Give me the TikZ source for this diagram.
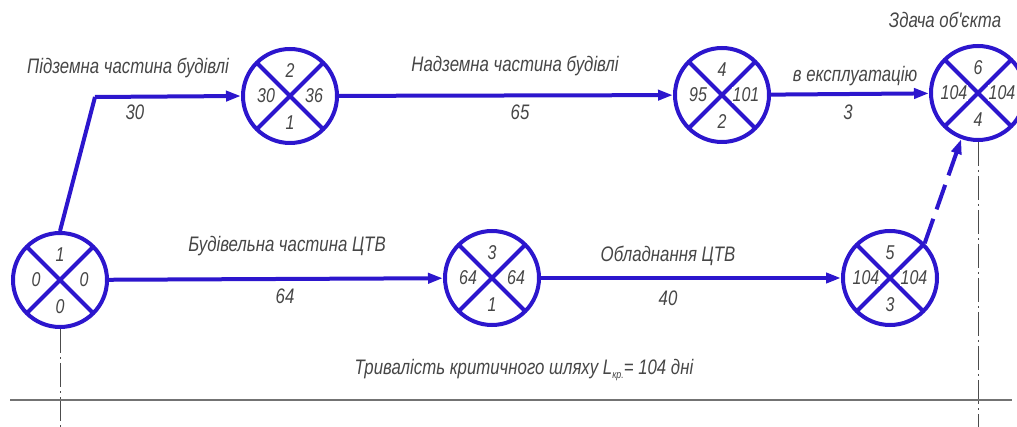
\documentclass[tikz,border=0pt]{standalone}
\usepackage{fontspec}
\setmainfont{Liberation Sans}
\newfontfamily\gost[FakeStretch=0.8]{Liberation Sans}
\usetikzlibrary{arrows.meta}
\definecolor{netblue}{RGB}{44,22,205}
\definecolor{txtgray}{RGB}{70,70,70}
\tikzset{
  event/.style={circle, draw=netblue, line width=4pt, minimum size=94pt, inner sep=0pt,
    path picture={\draw[netblue, line width=4pt]
      (path picture bounding box.north west) -- (path picture bounding box.south east)
      (path picture bounding box.south west) -- (path picture bounding box.north east);}},
  num/.style={fill=white, inner sep=0.5pt, text=txtgray, font=\gost\itshape\fontsize{20}{20}\selectfont},
  work/.style={netblue, line width=4pt, -{Triangle[length=15pt,width=10pt]}},
  lbl/.style={text=txtgray, font=\gost\itshape\fontsize{21}{21}\selectfont},
  axis/.style={black!70, line width=0.7pt, dash pattern=on 24pt off 4pt on 2pt off 4pt}
}
\newcommand\evt[6]{%
  \node[event] (#1) at (#2) {};
  \node[num, yshift=25pt] at (#1) {#3};
  \node[num, xshift=-24pt] at (#1) {#4};
  \node[num, xshift=24pt] at (#1) {#5};
  \node[num, yshift=-27pt] at (#1) {#6};}
\begin{document}
\begin{tikzpicture}[x=1pt,y=-1pt]
\useasboundingbox (0,0) rectangle (1017,427);
\evt{e1}{60,280}{1}{0}{0}{0}
\evt{e2}{290,96}{2}{30}{36}{1}
\evt{e3}{492,278}{3}{64}{64}{1}
\evt{e4}{722,95}{4}{95}{101}{2}
\evt{e5}{890,278}{5}{104}{104}{3}
\evt{e6}{978,93}{6}{104}{104}{4}
\coordinate (bend) at (95,97);
\coordinate (a1) at (60,427);
\coordinate (a6) at (978,427);
\coordinate (g1) at (10,400);
\coordinate (g2) at (1012,400);
\draw[axis] (e1.south) -- (a1);
\draw[axis] (e6.south) -- (a6);
\draw[black!55, line width=2.4pt] (g1) -- (g2);
\draw[netblue, line width=4pt] (e1.north) -- (bend);
\draw[work] (bend) -- (e2.west);
\draw[work] (e2) -- (e4);
\draw[work] (e4) -- (e6);
\draw[work] (e1) -- (e3);
\draw[work] (e3) -- (e5);
\draw[work, dash pattern=on 26pt off 10pt] (e5.north east) -- (e6.-110);
\node[lbl] (t12) at (128,68) {Підземна частина будівлі};
\node[lbl] (d12) at (135,112) {30};
\node[lbl] (t24) at (515,66) {Надземна частина будівлі};
\node[lbl] (d24) at (520,112) {65};
\node[lbl] (t46a) at (945,20) {Здача об'єкта};
\node[lbl] (t46b) at (855,76) {в експлуатацію};
\node[lbl] (d46) at (848,112) {3};
\node[lbl] (t13) at (287,246) {Будівельна частина ЦТВ};
\node[lbl] (d13) at (285,296) {64};
\node[lbl] (t35) at (668,256) {Обладнання ЦТВ};
\node[lbl] (d35) at (668,298) {40};
\node[lbl] (crit) at (524,370) {Тривалість критичного шляху L\raisebox{-0.3ex}{\fontsize{11}{11}\selectfont кр.}= 104 дні};
\end{tikzpicture}
\end{document}
